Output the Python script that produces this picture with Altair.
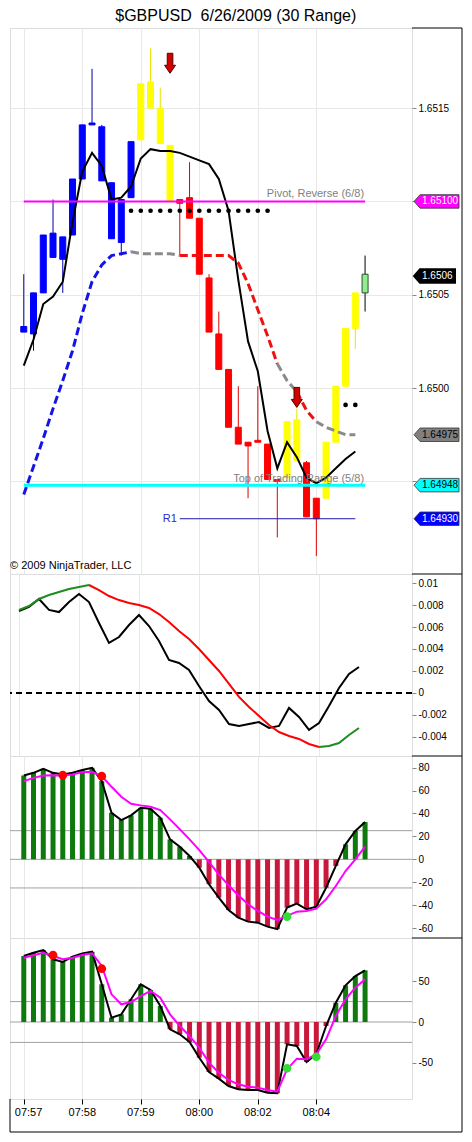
import altair as alt
import pandas as pd

FONT = "Arial"
GRID = "#E8E8E8"

# ---------------- data ----------------
chart_title = "$GBPUSD\u00a0 6/26/2009 (30 Range)"
copyright_text = "\u00a9 2009 NinjaTrader, LLC"

tick_idx = [0, 6, 12, 18, 24, 30]
tick_labels = ["07:57", "07:58", "07:59", "08:00", "08:02", "08:04"]

bar_open = [1.65030, 1.65029, 1.65051, 1.65070, 1.65069, 1.65082, 1.65112, 1.65141, 1.65111, 1.65080,
            1.65078, 1.65102, 1.65133, 1.65150, 1.65131, 1.65100, 1.65101, 1.65102, 1.65091, 1.65059,
            1.65029, 1.65010, 1.64979, 1.64971, 1.64972, 1.64970, 1.64951, 1.64952, 1.64961, 1.64960,
            1.64941, 1.64941, 1.64971, 1.65001, 1.65032, 1.65051]
bar_close = [1.65033, 1.65051, 1.65082, 1.65083, 1.65081, 1.65112, 1.65141, 1.65142, 1.65140, 1.65110,
             1.65101, 1.65132, 1.65163, 1.65164, 1.65150, 1.65130, 1.65099, 1.65091, 1.65061, 1.65030,
             1.65010, 1.64979, 1.64970, 1.64969, 1.64971, 1.64951, 1.64950, 1.64982, 1.64983, 1.64931,
             1.64930, 1.64971, 1.65001, 1.65032, 1.65051, 1.65061]
bar_high = [1.65061, 1.65051, 1.65082, 1.65101, 1.65081, 1.65112, 1.65141, 1.65171, 1.65141, 1.65110,
            1.65101, 1.65132, 1.65163, 1.65182, 1.65161, 1.65130, 1.65101, 1.65121, 1.65091, 1.65061,
            1.65041, 1.65010, 1.65001, 1.64971, 1.65001, 1.64970, 1.64951, 1.64982, 1.64989, 1.64961,
            1.64941, 1.64971, 1.65001, 1.65032, 1.65051, 1.65071]
bar_low = [1.65030, 1.65020, 1.65051, 1.65070, 1.65051, 1.65082, 1.65112, 1.65141, 1.65111, 1.65080,
           1.65071, 1.65102, 1.65133, 1.65150, 1.65131, 1.65100, 1.65071, 1.65091, 1.65061, 1.65030,
           1.65010, 1.64979, 1.64970, 1.64941, 1.64971, 1.64951, 1.64920, 1.64952, 1.64961, 1.64931,
           1.64910, 1.64941, 1.64971, 1.65001, 1.65021, 1.65041]
bar_kind = (["blue"] * 12 + ["yellow"] * 4 + ["red"] * 11 + ["yellow"] * 2 + ["red"] * 2
            + ["yellow"] * 4 + ["green"])

ma_line = [1.65012, 1.65026, 1.65045, 1.65049, 1.65057, 1.65089, 1.65116, 1.65126, 1.65119, 1.65101,
           1.65102, 1.65108, 1.65123, 1.65128, 1.65127, 1.65127, 1.65126, 1.65124, 1.65122, 1.65120,
           1.65112, 1.65095, 1.65058, 1.65025, 1.65009, 1.64977, 1.64957, 1.64971, 1.64963, 1.64952,
           1.64949, 1.64952, 1.64957, 1.64962, 1.64966]

dash_line = [1.64943, 1.64958, 1.64973, 1.64989, 1.65004, 1.65020, 1.65040, 1.65057, 1.65066, 1.65071,
             1.65072, 1.65073, 1.65072, 1.65072, 1.65072, 1.65072, 1.65071, 1.65071, 1.65071, 1.65071,
             1.65071, 1.65071, 1.65067, 1.65056, 1.65042, 1.65028, 1.65013, 1.65004, 1.64998, 1.64988,
             1.64982, 1.64979, 1.64977, 1.64975, 1.64975]
dash_kind = ["blue"] * 12 + ["grey"] * 5 + ["red"] * 10 + ["grey"] * 2 + ["red"] * 2 + ["grey"] * 4

level_price = [1.65100, 1.64948, 1.64930]
level_start = [0, 0, 16]
level_end = [35, 35, 34]
level_label = ["Pivot, Reverse (6/8)", "Top of Trading Range (5/8)", "R1"]

dot_bars = [11, 12, 13, 14, 15, 16, 17, 18, 19, 20, 21, 22, 23, 24, 25, 33, 34]
dot_price = [1.65095] * 15 + [1.64991] * 2

arrow_bars = [15, 28]
arrow_price = [1.65174, 1.64995]

tag_price = [1.65100, 1.64975, 1.64948, 1.64930]
tag_text = ["1.65100", "1.64975", "1.64948", "1.64930"]
last_price = [1.6506]
last_text = ["1.6506"]

osc_line = [0.00745, 0.00782, 0.00855, 0.00755, 0.00736, 0.00827, 0.009, 0.00827, 0.00636, 0.00455,
            0.00509, 0.00618, 0.00709, 0.00609, 0.00473, 0.003, 0.00273, 0.00209, 0.00064, -0.00073,
            -0.00155, -0.00282, -0.003, -0.00282, -0.00264, -0.00318, -0.003, -0.00136, -0.00218, -0.00336,
            -0.00273, -0.00118, 0.00045, 0.00173, 0.00236]
osc_signal = [0.00755, 0.00791, 0.00855, 0.00891, 0.00918, 0.00945, 0.00964, 0.00982, 0.00936, 0.00882,
              0.00845, 0.00818, 0.008, 0.00773, 0.00718, 0.00645, 0.00564, 0.00491, 0.004, 0.003,
              0.002, 0.00082, -0.00036, -0.00127, -0.00209, -0.00291, -0.00355, -0.00391, -0.00418, -0.00464,
              -0.00491, -0.00482, -0.00455, -0.00382, -0.00318]
signal_kind = ["green"] * 8 + ["red"] * 23 + ["green"] * 4

hist3 = [73.2, 75.5, 79.0, 75.5, 74.1, 75.5, 77.9, 79.9, 68.3, 40.6,
         34.3, 38.4, 45.0, 44.1, 36.3, 17.4, 11.0, 2.9, -7.3, -21.8,
         -33.5, -44.2, -50.9, -54.4, -55.3, -58.8, -61.0, -42.2, -38.7, -43.6,
         -41.3, -24.8, -5.8, 13.1, 24.7, 32.5]
sig3 = [68.3, 71.1, 73.2, 73.5, 73.2, 74.1, 76.1, 76.4, 72.6, 63.3,
        54.6, 48.5, 47.1, 45.9, 43.0, 34.9, 26.2, 17.4, 8.1, -2.4,
        -13.1, -22.7, -31.4, -39.2, -45.1, -50.0, -52.9, -49.4, -45.7, -45.1,
        -43.1, -34.9, -23.3, -10.2, 0.0, 11.0]
dots3_bar = [4, 8, 27]
dots3_val = [73.5, 72.6, -50.0]
dots3_kind = ["red", "red", "green"]

hist4 = [80.8, 84.9, 88.2, 76.8, 73.5, 80.0, 84.1, 86.1, 46.2, 5.3,
         9.4, 27.8, 46.2, 39.2, 19.6, -8.9, -15.1, -24.5, -43.7, -61.2,
         -69.4, -78.4, -82.4, -83.3, -83.3, -86.6, -87.3, -27.3, -29.4, -49.0,
         -39.5, -4.9, 23.6, 44.9, 56.3, 63.3]
sig4 = [78.7, 81.7, 84.9, 80.8, 76.8, 78.7, 82.0, 84.1, 68.6, 33.9,
        21.7, 24.5, 31.8, 38.0, 29.8, 9.4, -4.9, -17.1, -31.5, -49.8,
        -62.1, -71.0, -76.3, -79.2, -80.4, -83.3, -85.3, -57.9, -44.9, -45.7,
        -39.5, -21.2, 7.3, 27.8, 42.0, 52.3]
dots4_bar = [3, 8, 27, 30]
dots4_val = [82.0, 65.3, -56.7, -42.5]
dots4_kind = ["red", "red", "green", "green"]

ref_levels = [-25, 0, 25]

# ---------------- styles ----------------
BODY = {"blue": "#0000FF", "yellow": "#FFFF00", "red": "#FF0000", "green": "#90EE90"}
WICK = {"blue": "#0000A8", "yellow": "#E6E600", "red": "#E00000", "green": "#000000"}
OUTLINE = {"blue": "#0000FF", "yellow": "#FFFF00", "red": "#FF0000", "green": "#2E4E2E"}
DASH = {"blue": "#1414E6", "grey": "#8A8A8A", "red": "#EE1111"}
SIG = {"green": "#1E8C1E", "red": "#FF0000"}
DOT = {"red": "#FF0000", "green": "#33DD33"}
LEVEL_COLOR = ["#FF00FF", "#00FFFF", "#1A1AB0"]
LEVEL_WIDTH = [2, 3, 1]
TAG_FILL = ["#FF00FF", "#808080", "#00FFFF", "#0000FF"]
TAG_TEXT = ["white", "black", "black", "white"]
HIST_POS = "#0E7A0E"
HIST_NEG = "#C8193C"

TAG_W = 45
LAST_W = 41
TAG_PATH = "M-1,0 L-0.73,-0.3 L1,-0.3 L1,0.3 L-0.73,0.3 Z"
LAST_PATH = "M-1,0 L-0.71,-0.33 L1,-0.33 L1,0.33 L-0.71,0.33 Z"
ARROW = "M-0.28,-1 L0.28,-1 L0.28,0.2 L0.55,0.2 L0,1 L-0.55,0.2 L-0.28,0.2 Z"

W = 402
H1, H2, H3, H4 = 546, 182, 182, 161
FR = W + 50          # right outer frame line
BOTTOM = 194         # bottom outer frame line, relative to the last panel

xs = alt.Scale(domain=[-0.9, 39.3], nice=False, zero=False)
grid_axis = alt.Axis(values=tick_idx, grid=True, gridColor=GRID, labels=False, ticks=False,
                     domain=False, title=None)
time_axis = alt.Axis(values=tick_idx, grid=True, gridColor=GRID, labels=False, tickSize=5,
                     tickColor="black", domain=False, title=None)


def xenc(axis, field="i"):
    return alt.X(f"{field}:Q", scale=xs, axis=axis)


one = pd.DataFrame({"a": [0]})


def frame_rule(**enc):
    return alt.Chart(one).mark_rule(color="black", strokeWidth=1).encode(**enc)


def right_frame(h, bottom=None):
    layers = [
        frame_rule(x=alt.value(W), x2=alt.value(FR), y=alt.value(0)),
        frame_rule(x=alt.value(FR), y=alt.value(0), y2=alt.value(bottom or h)),
    ]
    if bottom:
        layers += [
            frame_rule(x=alt.value(0), x2=alt.value(FR), y=alt.value(bottom)),
            frame_rule(x=alt.value(0), y=alt.value(h), y2=alt.value(bottom)),
        ]
    return layers


# ---------------- panel 1: price ----------------
ys1 = alt.Scale(domain=[1.649004, 1.651929], nice=False, zero=False)
y1_axis = alt.Axis(orient="right", values=[1.6495, 1.65, 1.6505, 1.651, 1.6515],
                   labelExpr="(abs(datum.value - 1.651) < 0.00002 || datum.value < 1.6496) ? '' : format(datum.value, '.4f')",
                   grid=True, gridColor=GRID, tickSize=4, domain=False, title=None)


def y1(f):
    return alt.Y(f"{f}:Q", scale=ys1, axis=y1_axis)


candles = pd.DataFrame({"i": list(range(len(bar_open))), "o": bar_open, "c": bar_close,
                        "h": bar_high, "l": bar_low, "k": bar_kind})
candles["body"] = candles["k"].map(BODY)
candles["wick"] = candles["k"].map(WICK)
candles["outline"] = candles["k"].map(OUTLINE)

ma_df = pd.DataFrame({"i": list(range(len(ma_line))), "v": ma_line})


def runs(values, kinds, cmap):
    rows = []
    run = 0
    for i in range(1, len(values)):
        if i > 1 and kinds[i] != kinds[i - 1]:
            run += 1
        if i == 1 or kinds[i] != kinds[i - 1]:
            rows.append({"i": i - 1, "v": values[i - 1], "c": cmap[kinds[i]], "r": run})
        rows.append({"i": i, "v": values[i], "c": cmap[kinds[i]], "r": run})
    return pd.DataFrame(rows)


dash_df = runs(dash_line, dash_kind, DASH)

levels = pd.DataFrame({"p": level_price, "x0": level_start, "x1": level_end,
                       "col": LEVEL_COLOR, "w": LEVEL_WIDTH, "t": level_label})

wicks = alt.Chart(candles).mark_rule(strokeWidth=1).encode(
    x=xenc(grid_axis), y=y1("l"), y2="h:Q", color=alt.Color("wick:N", scale=None))
bodies = alt.Chart(candles).mark_bar(size=6, strokeWidth=1).encode(
    x=xenc(grid_axis), y=y1("o"), y2="c:Q",
    fill=alt.Fill("body:N", scale=None), stroke=alt.Stroke("outline:N", scale=None))
ma = alt.Chart(ma_df).mark_line(color="black", strokeWidth=2).encode(x=xenc(grid_axis), y=y1("v"))
dashed = alt.Chart(dash_df).mark_line(strokeWidth=3, strokeDash=[8, 4]).encode(
    x=xenc(grid_axis), y=y1("v"), color=alt.Color("c:N", scale=None), detail="r:N", order="i:Q")
lev = alt.Chart(levels).mark_rule().encode(
    x=xenc(grid_axis, "x0"), x2="x1:Q", y=y1("p"),
    color=alt.Color("col:N", scale=None), strokeWidth=alt.StrokeWidth("w:Q", scale=None))
lev_txt = alt.Chart(levels.iloc[[0]]).mark_text(
    align="right", baseline="bottom", dx=-1, dy=-2, fontSize=11, color="#7F7F7F", font=FONT).encode(
    x=xenc(grid_axis, "x1"), y=y1("p"), text="t:N")
lev_txt2 = alt.Chart(levels.iloc[[1]]).mark_text(
    align="right", baseline="bottom", dx=-1, dy=-1, fontSize=11, color="#7F7F7F", font=FONT).encode(
    x=xenc(grid_axis, "x1"), y=y1("p"), text="t:N")
r1_txt = alt.Chart(levels.iloc[[2]]).mark_text(
    align="right", baseline="middle", dx=-3, fontSize=11, color="#2A2AC8", font=FONT).encode(
    x=xenc(grid_axis, "x0"), y=y1("p"), text="t:N")
dots = alt.Chart(pd.DataFrame({"i": dot_bars, "p": dot_price})).mark_circle(
    size=22, color="black", opacity=1).encode(x=xenc(grid_axis), y=y1("p"))
arrows = alt.Chart(pd.DataFrame({"i": arrow_bars, "p": arrow_price})).mark_point(
    shape=ARROW, size=400, filled=True, fill="#D00000", stroke="#5A0000", strokeWidth=1, opacity=1).encode(
    x=xenc(grid_axis), y=y1("p"))
tags_df = pd.DataFrame({"p": tag_price, "t": tag_text, "f": TAG_FILL, "tc": TAG_TEXT})
tags = alt.Chart(tags_df).mark_point(
    shape=TAG_PATH, size=TAG_W * TAG_W, filled=True, opacity=1, stroke="#333333", strokeWidth=0.8).encode(
    x=alt.value(W + 2 + TAG_W / 2), y=y1("p"), fill=alt.Fill("f:N", scale=None))
tags_txt = alt.Chart(tags_df).mark_text(align="left", baseline="middle", fontSize=10, font=FONT).encode(
    x=alt.value(W + 10), y=y1("p"), text="t:N", color=alt.Color("tc:N", scale=None))
last_df = pd.DataFrame({"p": last_price, "t": last_text})
last_tag = alt.Chart(last_df).mark_point(
    shape=LAST_PATH, size=LAST_W * LAST_W, filled=True, opacity=1, fill="black", stroke="black").encode(
    x=alt.value(W + 2 + LAST_W / 2), y=y1("p"))
last_txt = alt.Chart(last_df).mark_text(align="left", baseline="middle", fontSize=10, font=FONT,
                                        color="white").encode(
    x=alt.value(W + 10), y=y1("p"), text="t:N")
copy_txt = alt.Chart(pd.DataFrame({"t": [copyright_text]})).mark_text(
    align="left", baseline="middle", fontSize=11, font=FONT, color="black").encode(
    x=alt.value(0), y=alt.value(538), text="t:N")

p1 = alt.layer(wicks, bodies, ma, dashed, lev, lev_txt, lev_txt2, r1_txt, dots, arrows,
               tags, tags_txt, last_tag, last_txt, copy_txt, *right_frame(H1)).properties(width=W, height=H1)

# ---------------- panel 2 ----------------
ys2 = alt.Scale(domain=[-0.00573, 0.01082], nice=False, zero=False)
y2_axis = alt.Axis(orient="right", values=[-0.004, -0.002, 0, 0.002, 0.004, 0.006, 0.008, 0.01],
                   labelExpr="datum.value + ''", grid=False, tickSize=4, domain=False, title=None)


def y2(f):
    return alt.Y(f"{f}:Q", scale=ys2, axis=y2_axis)


osc_df = pd.DataFrame({"i": list(range(len(osc_line))), "v": osc_line})
sig_df = runs(osc_signal, signal_kind, SIG)
zero2 = alt.Chart(pd.DataFrame({"v": [0]})).mark_rule(strokeDash=[6, 4], strokeWidth=2, color="black").encode(
    y=y2("v"))
osc = alt.Chart(osc_df).mark_line(color="black", strokeWidth=2).encode(x=xenc(grid_axis), y=y2("v"))
sig = alt.Chart(sig_df).mark_line(strokeWidth=2).encode(
    x=xenc(grid_axis), y=y2("v"), color=alt.Color("c:N", scale=None), detail="r:N", order="i:Q")
p2 = alt.layer(zero2, osc, sig, *right_frame(H2)).properties(width=W, height=H2)


# ---------------- panels 3 and 4 ----------------
def hist_panel(hist, sig_vals, d_bar, d_val, d_kind, domain, yvals, h, axis, bottom=None, time_labels=False):
    ys = alt.Scale(domain=domain, nice=False, zero=False)
    yax = alt.Axis(orient="right", values=yvals, labelExpr="datum.value + ''", grid=False,
                   tickSize=4, domain=False, title=None)

    def yy(f):
        return alt.Y(f"{f}:Q", scale=ys, axis=yax)

    hdf = pd.DataFrame({"i": list(range(len(hist))), "v": hist, "s": sig_vals})
    refs = alt.Chart(pd.DataFrame({"v": ref_levels})).mark_rule(color="#A0A0A0", strokeWidth=1).encode(y=yy("v"))
    bars = alt.Chart(hdf).mark_bar(size=5).encode(
        x=xenc(axis), y=yy("v"), y2=alt.datum(0),
        color=alt.condition(alt.datum.v >= 0, alt.value(HIST_POS), alt.value(HIST_NEG)))
    line = alt.Chart(hdf).mark_line(color="black", strokeWidth=2).encode(x=xenc(axis), y=yy("v"))
    sline = alt.Chart(hdf).mark_line(color="#FF00FF", strokeWidth=2).encode(x=xenc(axis), y=yy("s"))
    ddf = pd.DataFrame({"i": d_bar, "v": d_val, "c": [DOT[k] for k in d_kind]})
    dts = alt.Chart(ddf).mark_circle(size=75, opacity=1).encode(
        x=xenc(axis), y=yy("v"), color=alt.Color("c:N", scale=None))
    layers = [refs, bars, line, sline, dts]
    if time_labels:
        tdf = pd.DataFrame({"i": tick_idx, "t": tick_labels})
        first = alt.Chart(tdf.iloc[[0]]).mark_text(
            align="left", baseline="middle", dx=-9, fontSize=11, font=FONT, color="black").encode(
            x=xenc(axis), y=alt.value(h + 14), text="t:N")
        rest = alt.Chart(tdf.iloc[1:]).mark_text(
            align="center", baseline="middle", fontSize=11, font=FONT, color="black").encode(
            x=xenc(axis), y=alt.value(h + 14), text="t:N")
        layers += [first, rest]
    return alt.layer(*layers, *right_frame(h, bottom)).properties(width=W, height=h)


p3 = hist_panel(hist3, sig3, dots3_bar, dots3_val, dots3_kind, [-68.7, 90.2],
                [-60, -40, -20, 0, 20, 40, 60, 80], H3, grid_axis)
p4 = hist_panel(hist4, sig4, dots4_bar, dots4_val, dots4_kind, [-94.3, 102.9],
                [-50, 0, 50], H4, time_axis, bottom=BOTTOM, time_labels=True)

chart = alt.vconcat(p1, p2, p3, p4, spacing=0, bounds="flush").properties(
    padding={"left": 0, "top": 0, "right": 0, "bottom": 0},
    autosize=alt.AutoSizeParams(type="pad"),
    title=alt.TitleParams(chart_title, fontSize=16, font=FONT, fontWeight="normal",
                          anchor="middle", offset=3, color="black"),
).configure_view(
    stroke="black", strokeWidth=1
).configure_axis(
    labelFont=FONT, labelFontSize=11, labelColor="black", tickColor="black", labelPadding=2
).configure(background="white")

chart.save("out.html", embed_options={"renderer": "svg", "actions": False})
